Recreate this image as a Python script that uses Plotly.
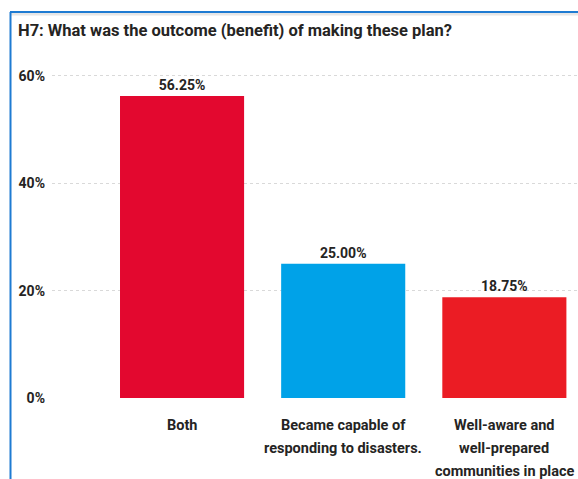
import plotly.graph_objects as go

# Survey responses for question H7
categories = [
    "Both",
    "Became capable of<br>responding to disasters.",
    "Well-aware and<br>well-prepared<br>communities in place",
]
shares = [56.25, 25.00, 18.75]
bar_colors = ["#E3082F", "#00A2E8", "#EB1C24"]
y_ticks = [0, 20, 40, 60]

title_text = "H7: What was the outcome (benefit) of making these plan?"

FONT = "Roboto"
TEXT_COLOR = "#252423"
W, H = 578, 479
M_L, M_R, M_T, M_B = 52, 0, 60, 81
LINE_STEP = 23  # spacing between wrapped category label lines

fig = go.Figure(
    go.Bar(
        x=list(range(len(categories))),
        y=shares,
        marker=dict(color=bar_colors, line=dict(width=0)),
        texttemplate="<b>%{y:.2f}%</b>",
        textposition="outside",
        textfont=dict(family=FONT, size=14, color=TEXT_COLOR),
        cliponaxis=False,
        width=0.77,
    )
)

# Category labels, one annotation per wrapped line for wider line spacing
annotations = []
for i, label in enumerate(categories):
    for k, line in enumerate(label.split("<br>")):
        annotations.append(dict(
            x=i, y=0, xref="x", yref="y",
            text=f"<b>{line}</b>",
            showarrow=False,
            xanchor="center", yanchor="top",
            yshift=-17 - LINE_STEP * k,
            font=dict(family=FONT, size=14.5, color=TEXT_COLOR),
        ))

# Frame lines around the visual (top and left edges)
def px_x(p):
    return (p - M_L) / (W - M_L - M_R)

def px_y(p):
    return (H - M_B - p) / (H - M_T - M_B)

shapes = [
    dict(type="line", xref="paper", yref="paper",
         x0=px_x(10), x1=px_x(W + 5), y0=px_y(14), y1=px_y(14),
         line=dict(color="#E6E6E6", width=3)),
    dict(type="line", xref="paper", yref="paper",
         x0=px_x(10), x1=px_x(W + 5), y0=px_y(12), y1=px_y(12),
         line=dict(color="#1E7BD2", width=2)),
    dict(type="line", xref="paper", yref="paper",
         x0=px_x(10.5), x1=px_x(10.5), y0=px_y(12), y1=px_y(H + 5),
         line=dict(color="#1E7BD2", width=2)),
]

fig.update_layout(
    width=W,
    height=H,
    margin=dict(l=M_L, r=M_R, t=M_T, b=M_B),
    paper_bgcolor="white",
    plot_bgcolor="white",
    showlegend=False,
    bargap=0.23,
    title=dict(
        text=f"<b>{title_text}</b>",
        x=18 / W,
        xanchor="left",
        y=1 - 30 / H,
        yanchor="middle",
        font=dict(family=FONT, size=16.5, color=TEXT_COLOR),
    ),
    font=dict(family=FONT, color=TEXT_COLOR),
    xaxis=dict(
        range=[-0.807, 2.457],
        showticklabels=False,
        showgrid=False,
        showline=False,
        zeroline=False,
        ticks="",
    ),
    yaxis=dict(
        range=[0, 62.98],
        tickmode="array",
        tickvals=y_ticks,
        ticktext=[f"<b>{v}%</b>" for v in y_ticks],
        tickfont=dict(family=FONT, size=14, color=TEXT_COLOR),
        showgrid=True,
        gridcolor="#D9D9D9",
        griddash="dot",
        gridwidth=1,
        zeroline=False,
        showline=False,
        ticks="",
        ticklabelstandoff=6,
    ),
    annotations=annotations,
    shapes=shapes,
)

fig.write_html("out.html")
